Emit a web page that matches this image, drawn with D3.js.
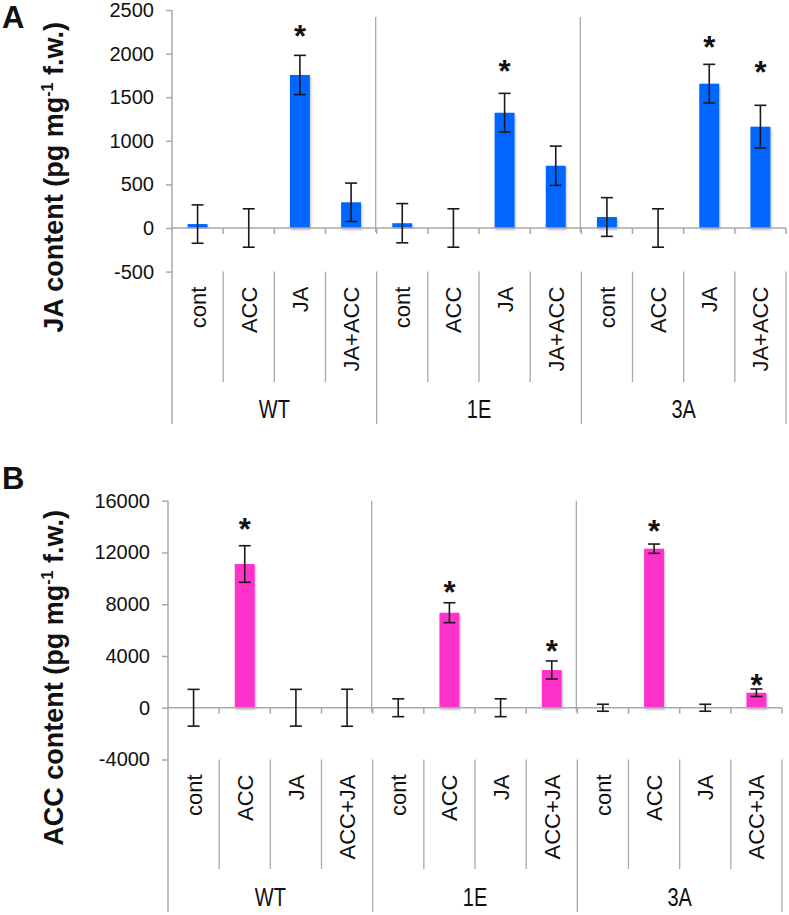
<!DOCTYPE html>
<html>
<head>
<meta charset="utf-8">
<script src="https://cdn.jsdelivr.net/npm/d3@7"></script>
<style>
  html, body { margin: 0; padding: 0; background: #fff; }
  svg { display: block; }
  text { font-family: "Liberation Sans", Arial, sans-serif; fill: #111; }
</style>
</head>
<body>
<svg id="chart" width="789" height="915"></svg>
<script>
// ---------------- DATA ----------------
const groups = ["WT", "1E", "3A"];

const jaTreatments = ["cont", "ACC", "JA", "JA+ACC"];
const jaMeans  = [45, 0, 1755, 295,   55, 0, 1322, 714,   126, 0, 1655, 1162];
const jaErrors = [220, 220, 225, 220, 225, 220, 222, 225, 222, 220, 222, 245];
const jaStars  = [null, null, 2270, null, null, null, 1869, null, null, null, 2144, 1858];
const jaTicks  = [-500, 0, 500, 1000, 1500, 2000, 2500];

const accTreatments = ["cont", "ACC", "JA", "ACC+JA"];
const accMeans  = [0, 11107, 0, 0,   0, 7343, 0, 2914,   0, 12290, 0, 1160];
const accErrors = [1420, 1415, 1420, 1430, 690, 770, 690, 700, 270, 360, 270, 290];
const accStars  = [null, 14300, null, null, null, 9407, null, 4846, null, 14122, null, 2218];
const accTicks  = [-4000, 0, 4000, 8000, 12000, 16000];

// ---------------- DRAW ----------------
const svg = d3.select("#chart");

const defs = svg.append("defs");
const f = defs.append("filter").attr("id", "shadow")
  .attr("x", "-30%").attr("y", "-10%").attr("width", "160%").attr("height", "130%");
f.append("feDropShadow").attr("dx", 1).attr("dy", 2).attr("stdDeviation", 1.2)
  .attr("flood-color", "#000").attr("flood-opacity", 0.25);

const axisColor = "#a9a9a9";

function drawPanel(cfg) {
  const g = svg.append("g");
  const keys = d3.range(groups.length * cfg.treatments.length);
  const nT = cfg.treatments.length;

  const x = d3.scaleBand().domain(keys).range([cfg.x0, cfg.x1])
    .paddingInner(0.61).paddingOuter(0.305);
  const step = x.step();
  const bx = i => cfg.x0 + step * i;               // category boundary
  const cx = i => x(i) + x.bandwidth() / 2;         // category centre
  const gx = d3.scaleBand().domain(groups).range([cfg.x0, cfg.x1]);

  const y = d3.scaleLinear()
    .domain([d3.min(cfg.ticks), d3.max(cfg.ticks)])
    .range([cfg.yBottom, cfg.yTop]);
  const y0 = y(0);

  // panel letter
  g.append("text").attr("x", 2).attr("y", cfg.letterY)
    .style("font-size", "31px").style("font-weight", "bold").text(cfg.letter);

  // y title
  const t = g.append("text")
    .attr("transform", `translate(${cfg.titleX},${cfg.titleEndY}) rotate(-90)`)
    .attr("text-anchor", "end")
    .style("font-size", "27px").style("font-weight", "bold");
  t.append("tspan").text(cfg.title + " (pg mg");
  t.append("tspan").attr("dy", -10).style("font-size", "16px").text("-1");
  t.append("tspan").attr("dy", 10).text(" f.w.)");

  // y axis ticks + labels
  const yAxis = d3.axisLeft(y).tickValues(cfg.ticks).tickSize(6).tickPadding(12)
    .tickFormat(d => String(d));
  const ya = g.append("g").attr("transform", `translate(${cfg.x0},0)`).call(yAxis);
  ya.select(".domain").remove();
  ya.selectAll(".tick line").attr("stroke", axisColor).attr("stroke-width", 1.5);
  ya.selectAll(".tick text").style("font-size", "20px")
    .style("font-family", '"Liberation Sans", Arial, sans-serif').attr("fill", "#111");

  // left axis line (runs through label area)
  g.append("line").attr("x1", cfg.x0).attr("x2", cfg.x0)
    .attr("y1", cfg.yTop).attr("y2", cfg.groupEnd)
    .attr("stroke", axisColor).attr("stroke-width", 1.5);

  // group dividers in plot
  [nT, 2 * nT].forEach(i => {
    g.append("line").attr("x1", bx(i) - 1).attr("x2", bx(i) - 1)
      .attr("y1", cfg.yTop + cfg.dividerTopOffset).attr("y2", y0 + 4)
      .attr("stroke", axisColor).attr("stroke-width", 1.3);
  });

  // label area separators
  d3.range(1, keys.length + 1).forEach(i => {
    const isGroup = i % nT === 0;
    g.append("line").attr("x1", bx(i)).attr("x2", bx(i))
      .attr("y1", cfg.yBottom).attr("y2", isGroup ? cfg.groupEnd : cfg.sepEnd)
      .attr("stroke", axisColor).attr("stroke-width", 1.3);
  });

  // bars
  g.selectAll("rect.bar").data(cfg.means).join("rect").attr("class", "bar")
    .attr("x", (d, i) => x(i)).attr("width", x.bandwidth())
    .attr("y", d => Math.min(y(d), y0))
    .attr("height", d => Math.abs(y0 - y(d)))
    .attr("fill", cfg.color).attr("filter", "url(#shadow)");

  // zero line + tick marks
  g.append("line").attr("x1", cfg.x0).attr("x2", cfg.x1)
    .attr("y1", y0).attr("y2", y0).attr("stroke", axisColor).attr("stroke-width", 1.5);
  d3.range(1, keys.length + 1).forEach(i => {
    g.append("line").attr("x1", bx(i)).attr("x2", bx(i))
      .attr("y1", y0).attr("y2", y0 + 6)
      .attr("stroke", axisColor).attr("stroke-width", 1.5);
  });

  // error bars
  const eb = g.selectAll("g.err").data(cfg.means).join("g").attr("class", "err");
  const cap = 6;
  eb.append("line")
    .attr("x1", (d, i) => cx(i)).attr("x2", (d, i) => cx(i))
    .attr("y1", (d, i) => y(d + cfg.errors[i])).attr("y2", (d, i) => y(d - cfg.errors[i]));
  eb.append("line")
    .attr("x1", (d, i) => cx(i) - cap).attr("x2", (d, i) => cx(i) + cap)
    .attr("y1", (d, i) => y(d + cfg.errors[i])).attr("y2", (d, i) => y(d + cfg.errors[i]));
  eb.append("line")
    .attr("x1", (d, i) => cx(i) - cap).attr("x2", (d, i) => cx(i) + cap)
    .attr("y1", (d, i) => y(d - cfg.errors[i])).attr("y2", (d, i) => y(d - cfg.errors[i]));
  eb.selectAll("line").attr("stroke", "#1a1a1a").attr("stroke-width", 1.6);

  // significance stars
  cfg.stars.forEach((s, i) => {
    if (s == null) return;
    g.append("text").attr("x", cx(i)).attr("y", y(s) + 17)
      .attr("text-anchor", "middle")
      .style("font-size", "31px").style("font-weight", "bold").text("*");
  });

  // category labels
  keys.forEach(i => {
    g.append("text")
      .attr("transform", `translate(${cx(i) + 8},${cfg.yBottom + 15}) rotate(-90)`)
      .attr("text-anchor", "end")
      .style("font-size", "22px")
      .text(cfg.treatments[i % nT]);
  });

  // group labels (condensed face)
  groups.forEach(gr => {
    g.append("text")
      .attr("transform", `translate(${gx(gr) + gx.bandwidth() / 2},${cfg.groupLabelY}) scale(0.8,1)`)
      .attr("text-anchor", "middle")
      .style("font-size", "25px")
      .text(gr);
  });
}

drawPanel({
  letter: "A", letterY: 28,
  title: "JA content", titleX: 63, titleEndY: 22,
  treatments: jaTreatments, means: jaMeans, errors: jaErrors, stars: jaStars,
  ticks: jaTicks, color: "#0066ff",
  x0: 172, x1: 786, yTop: 10, yBottom: 271.6,
  sepEnd: 382, groupEnd: 424, groupLabelY: 418, dividerTopOffset: 7
});

drawPanel({
  letter: "B", letterY: 489,
  title: "ACC content", titleX: 63, titleEndY: 510,
  treatments: accTreatments, means: accMeans, errors: accErrors, stars: accStars,
  ticks: accTicks, color: "#ff33cc",
  x0: 168, x1: 782, yTop: 500.7, yBottom: 759.5,
  sepEnd: 869, groupEnd: 912, groupLabelY: 906, dividerTopOffset: 0
});
</script>
</body>
</html>
